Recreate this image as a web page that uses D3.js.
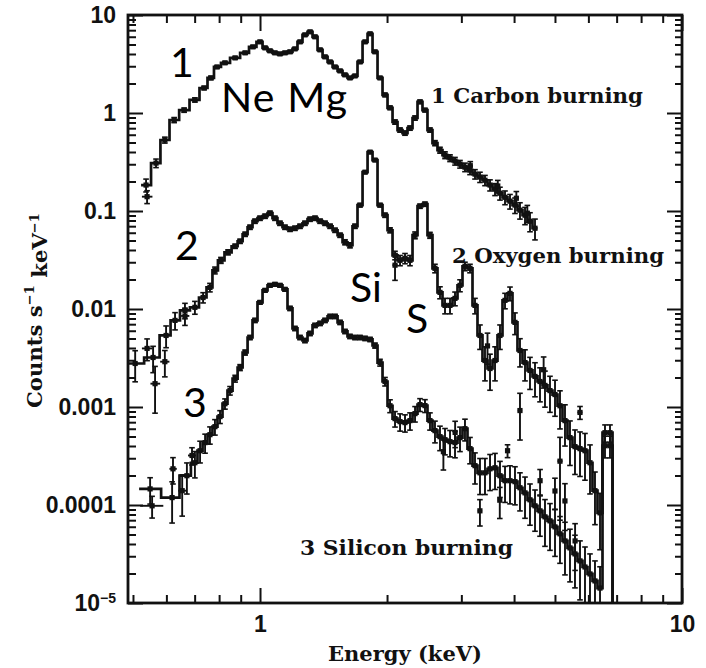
<!DOCTYPE html>
<html>
<head>
<meta charset="utf-8">
<script src="https://cdn.jsdelivr.net/npm/d3@7"></script>
<style>
  body { margin: 0; background: #fff; }
  svg { display: block; }
</style>
</head>
<body>
<svg id="chart" width="706" height="668"></svg>
<script>
// ---- X-ray spectra: count rate per keV for three burning-stage models ----

// 1: Carbon burning
const carbonE = [
  0.537, 0.567, 0.595, 0.626, 0.661, 0.701, 0.737, 0.765, 0.791, 0.826,
  0.873, 0.922, 0.962, 1.000, 1.028, 1.056, 1.085, 1.115, 1.146, 1.178,
  1.210, 1.244, 1.278, 1.314, 1.350, 1.388, 1.426, 1.466, 1.506, 1.548,
  1.590, 1.634, 1.679, 1.726, 1.774, 1.823, 1.873, 1.925, 1.978, 2.033,
  2.089, 2.147, 2.206, 2.267, 2.330, 2.394, 2.460, 2.528, 2.598, 2.670,
  2.744, 2.820, 2.898, 2.978, 3.060, 3.145, 3.232, 3.321, 3.413, 3.508,
  3.605, 3.704, 3.807, 3.912, 4.020, 4.131, 4.246, 4.363, 4.484
];
const carbonCounts = [
  0.184, 0.308, 0.530, 0.848, 1.07, 1.36, 1.80, 2.28, 2.95, 3.25,
  3.65, 4.11, 4.73, 5.32, 4.62, 4.31, 4.11, 4.01, 4.11, 4.21,
  4.51, 5.32, 6.27, 6.73, 5.99, 4.41, 3.74, 3.32, 2.95, 2.69,
  2.45, 2.28, 2.39, 3.32, 5.32, 6.43, 4.21, 2.28, 1.53, 1.13,
  0.809, 0.670, 0.624, 0.702, 0.889, 1.30, 1.07, 0.670, 0.493, 0.418,
  0.372, 0.347, 0.323, 0.301, 0.280, 0.261, 0.238, 0.222, 0.206, 0.184,
  0.167, 0.152, 0.138, 0.126, 0.115, 0.102, 0.0906, 0.0787, 0.0667
];
const carbonRelErr = [
  0.15, 0.10, 0.07, 0.06, 0.05, 0.05, 0.04, 0.04, 0.03, 0.03,
  0.03, 0.03, 0.03, 0.03, 0.03, 0.03, 0.03, 0.03, 0.03, 0.03,
  0.03, 0.03, 0.03, 0.03, 0.03, 0.03, 0.03, 0.03, 0.03, 0.03,
  0.03, 0.03, 0.03, 0.03, 0.03, 0.03, 0.03, 0.03, 0.04, 0.04,
  0.05, 0.05, 0.05, 0.05, 0.05, 0.04, 0.04, 0.05, 0.06, 0.07,
  0.08, 0.08, 0.09, 0.09, 0.10, 0.10, 0.11, 0.12, 0.12, 0.13,
  0.14, 0.15, 0.16, 0.17, 0.18, 0.19, 0.20, 0.22, 0.24
];
// points off the model: [energy, counts, relative error, bin low, bin high]
const carbonExtra = [
  [0.540, 0.140, 0.15, 0.525, 0.556],
  [3.150, 0.290, 0.10, 3.110, 3.190],
  [3.660, 0.180, 0.14, 3.620, 3.700],
  [4.050, 0.135, 0.17, 4.000, 4.100],
  [4.300, 0.095, 0.20, 4.250, 4.350]
];

// 2: Oxygen burning
const oxygenE = [
  0.506, 0.558, 0.599, 0.629, 0.664, 0.701, 0.733, 0.761, 0.782, 0.808,
  0.840, 0.873, 0.897, 0.922, 0.947, 0.973, 1.000, 1.028, 1.056, 1.085,
  1.115, 1.146, 1.178, 1.210, 1.244, 1.278, 1.314, 1.350, 1.388, 1.426,
  1.466, 1.506, 1.548, 1.590, 1.634, 1.679, 1.726, 1.774, 1.823, 1.873,
  1.925, 1.978, 2.033, 2.089, 2.147, 2.206, 2.267, 2.330, 2.394, 2.460,
  2.528, 2.598, 2.670, 2.744, 2.820, 2.898, 2.978, 3.060, 3.145, 3.232,
  3.321, 3.413, 3.508, 3.605, 3.704, 3.807, 3.912, 4.020, 4.131, 4.246,
  4.363, 4.484, 4.608, 4.735, 4.866, 5.001, 5.139, 5.281, 5.427, 5.577,
  5.732, 5.890, 6.053, 6.220, 6.393, 6.569, 6.751, 6.940
];
const oxygenCounts = [
  0.00278, 0.00320, 0.00537, 0.00765, 0.00968, 0.0104, 0.0131, 0.0166, 0.0248, 0.0314,
  0.0379, 0.0437, 0.0491, 0.0579, 0.0683, 0.0787, 0.0844, 0.0885, 0.0950, 0.0844,
  0.0750, 0.0683, 0.0651, 0.0667, 0.0699, 0.0750, 0.0825, 0.0844, 0.0787, 0.0750,
  0.0699, 0.0636, 0.0566, 0.0480, 0.0447, 0.0699, 0.1147, 0.249, 0.399, 0.331,
  0.1147, 0.0906, 0.0636, 0.0353, 0.0314, 0.0329, 0.0314, 0.0566, 0.1120, 0.1174,
  0.0566, 0.0260, 0.01478, 0.01088, 0.01088, 0.01284, 0.01743, 0.0273, 0.0260, 0.01088,
  0.00537, 0.00298, 0.00247, 0.00298, 0.00537, 0.01225, 0.01444, 0.00730, 0.00377, 0.00284,
  0.00236, 0.00205, 0.00182, 0.00166, 0.00147, 0.00134, 0.00103, 0.000726, 0.000487, 0.000394,
  0.000376, 0.000358, 0.000270, 0.000140, 0.0000832, 0.000547, 0.000547, 0.000004
];
const oxygenRelErr = [
  0.35, 0.30, 0.25, 0.20, 0.18, 0.15, 0.12, 0.10, 0.08, 0.07,
  0.06, 0.05, 0.05, 0.05, 0.05, 0.05, 0.05, 0.05, 0.05, 0.05,
  0.05, 0.05, 0.05, 0.05, 0.05, 0.05, 0.05, 0.05, 0.05, 0.05,
  0.05, 0.05, 0.05, 0.06, 0.06, 0.05, 0.04, 0.03, 0.03, 0.03,
  0.04, 0.05, 0.06, 0.10, 0.12, 0.12, 0.12, 0.08, 0.05, 0.05,
  0.07, 0.10, 0.14, 0.18, 0.18, 0.16, 0.14, 0.10, 0.10, 0.18,
  0.28, 0.38, 0.40, 0.38, 0.28, 0.18, 0.16, 0.25, 0.32, 0.35,
  0.36, 0.38, 0.38, 0.40, 0.40, 0.40, 0.42, 0.45, 0.48, 0.48,
  0.48, 0.50, 0.52, 0.55, 0.58, 0.20, 0.20, 0
];
const oxygenExtra = [
  [0.540, 0.00396, 0.25, 0.525, 0.556],
  [0.564, 0.00173, 0.50, 0.550, 0.580],
  [0.595, 0.00290, 0.30, 0.580, 0.610],
  [0.664, 0.00850, 0.20, 0.650, 0.680],
  [2.089, 0.0280, 0.30, 2.060, 2.120],
  [3.460, 0.00420, 0.35, 3.420, 3.500],
  [4.131, 0.00092, 0.50, 4.080, 4.180],
  [4.700, 0.00240, 0.35, 4.650, 4.750],
  [5.139, 0.00028, 0.75, 5.070, 5.210],
  [5.732, 0.00088, 0.15, 5.650, 5.810]
];

// 3: Silicon burning
const siliconE = [
  0.549, 0.619, 0.671, 0.701, 0.721, 0.741, 0.761, 0.782, 0.804, 0.826,
  0.849, 0.873, 0.897, 0.922, 0.947, 0.973, 1.000, 1.028, 1.056, 1.085,
  1.115, 1.146, 1.178, 1.210, 1.244, 1.278, 1.314, 1.350, 1.388, 1.426,
  1.466, 1.506, 1.548, 1.590, 1.634, 1.679, 1.726, 1.774, 1.823, 1.873,
  1.925, 1.978, 2.033, 2.089, 2.147, 2.206, 2.267, 2.330, 2.394, 2.460,
  2.528, 2.598, 2.670, 2.744, 2.820, 2.898, 2.978, 3.060, 3.145, 3.232,
  3.321, 3.413, 3.508, 3.605, 3.704, 3.807, 3.912, 4.020, 4.131, 4.246,
  4.363, 4.484, 4.608, 4.735, 4.866, 5.001, 5.139, 5.281, 5.427, 5.577,
  5.732, 5.890, 6.053, 6.220, 6.393, 6.569, 6.751, 6.940
];
const siliconCounts = [
  0.000146, 0.000119, 0.000199, 0.000270, 0.000358, 0.000433, 0.000522, 0.000630, 0.000798, 0.00108,
  0.00147, 0.00195, 0.00253, 0.00360, 0.00512, 0.00765, 0.01168, 0.01549, 0.01743, 0.01785,
  0.01743, 0.01586, 0.01014, 0.00633, 0.00512, 0.00477, 0.00563, 0.00680, 0.00713, 0.00765,
  0.00840, 0.00840, 0.00730, 0.00590, 0.00525, 0.00512, 0.00512, 0.00501, 0.00489, 0.00424,
  0.00284, 0.00182, 0.00103, 0.000761, 0.000709, 0.000693, 0.000726, 0.000856, 0.001058, 0.001033,
  0.000726, 0.000574, 0.000498, 0.000464, 0.000443, 0.000433, 0.000487, 0.000601, 0.000376, 0.000252,
  0.000213, 0.000213, 0.000234, 0.000240, 0.000199, 0.000177, 0.000177, 0.000173, 0.000150, 0.000133,
  0.000113, 0.0000981, 0.0000872, 0.0000757, 0.0000689, 0.0000598, 0.0000508, 0.0000430, 0.0000365, 0.0000317,
  0.0000269, 0.0000233, 0.0000198, 0.0000168, 0.0000142, 0.000403, 0.000403, 0.000004
];
const siliconRelErr = [
  0.30, 0.45, 0.35, 0.30, 0.25, 0.22, 0.20, 0.18, 0.15, 0.12,
  0.10, 0.08, 0.07, 0.06, 0.05, 0.05, 0.04, 0.04, 0.04, 0.04,
  0.04, 0.04, 0.05, 0.05, 0.05, 0.05, 0.05, 0.05, 0.05, 0.05,
  0.05, 0.05, 0.05, 0.05, 0.05, 0.05, 0.05, 0.05, 0.05, 0.06,
  0.08, 0.10, 0.15, 0.18, 0.20, 0.20, 0.20, 0.18, 0.15, 0.15,
  0.20, 0.25, 0.28, 0.30, 0.30, 0.30, 0.28, 0.25, 0.30, 0.35,
  0.40, 0.40, 0.40, 0.40, 0.40, 0.40, 0.42, 0.42, 0.42, 0.45,
  0.45, 0.45, 0.45, 0.50, 0.50, 0.50, 0.50, 0.55, 0.55, 0.55,
  0.60, 0.60, 0.60, 0.60, 0.65, 0.25, 0.25, 0
];
const siliconExtra = [
  [0.555, 0.0000981, 0.25, 0.520, 0.590],
  [0.622, 0.000234, 0.30, 0.610, 0.635],
  [0.654, 0.000140, 0.45, 0.640, 0.670],
  [0.690, 0.000320, 0.20, 0.675, 0.705],
  [2.720, 0.000350, 0.35, 2.690, 2.750],
  [2.900, 0.000550, 0.30, 2.870, 2.930],
  [3.320, 0.0000872, 0.30, 3.280, 3.360],
  [3.700, 0.000112, 0.35, 3.660, 3.740],
  [3.860, 0.000358, 0.15, 3.820, 3.900],
  [4.610, 0.000177, 0.30, 4.560, 4.660],
  [5.000, 0.000139, 0.35, 4.950, 5.050],
  [5.280, 0.000110, 0.50, 5.220, 5.340],
  [5.580, 0.0000430, 0.50, 5.520, 5.640]
];

// axis ticks and labels
const yTickValues = [10, 1, 0.1, 0.01, 0.001, 0.0001, 0.00001];
const yTickLabels = ["10", "1", "0.1", "0.01", "0.001", "0.0001", "10"];
const xTickValues = [1, 10];
const xTickLabels = ["1", "10"];

// ---- layout ----
const plotLeft = 128, plotRight = 682, plotTop = 15, plotBottom = 603;
const svg = d3.select("#chart");

const x = d3.scaleLog().domain([0.4866, 10]).range([plotLeft, plotRight]);
const y = d3.scaleLog().domain([1e-5, 10]).range([plotBottom, plotTop]);

const tickFont = "'Liberation Sans', Arial, sans-serif";
const serifFont = "'DejaVu Serif', serif";
const noteFont = "Lato, 'Open Sans', sans-serif";

svg.append("defs").append("clipPath").attr("id", "plot-clip")
  .append("rect")
  .attr("x", plotLeft).attr("y", plotTop)
  .attr("width", plotRight - plotLeft).attr("height", plotBottom - plotTop);

// ---- axes (all ticks point inward) ----
const yMinor = y.ticks().filter(v => Math.abs(Math.log10(v) - Math.round(Math.log10(v))) > 1e-6);
const xMinor = x.ticks().filter(v => v >= 0.5 && Math.abs(Math.log10(v) - Math.round(Math.log10(v))) > 1e-6);

function styleAxis(g) {
  g.select(".domain").remove();
  g.selectAll(".tick line").attr("stroke", "#111").attr("stroke-width", 2);
}

const leftAxis = svg.append("g").attr("transform", `translate(${plotLeft},0)`)
  .call(d3.axisLeft(y).tickValues(yTickValues).tickSize(-15).tickPadding(12)
    .tickFormat((d, i) => yTickLabels[i]))
  .call(styleAxis);
leftAxis.selectAll("text")
  .attr("font-family", tickFont).attr("font-size", 23).attr("font-weight", "bold")
  .attr("fill", "#111");
// the lowest decade is written with an exponent
leftAxis.selectAll(".tick").filter(d => d === 0.00001).select("text")
  .append("tspan").attr("font-size", 14).attr("dy", "-0.55em").text("\u22125");

svg.append("g").attr("transform", `translate(${plotLeft},0)`)
  .call(d3.axisLeft(y).tickValues(yMinor).tickSize(-8).tickFormat(""))
  .call(styleAxis);
svg.append("g").attr("transform", `translate(${plotRight},0)`)
  .call(d3.axisRight(y).tickValues(yTickValues).tickSize(-15).tickFormat(""))
  .call(styleAxis);
svg.append("g").attr("transform", `translate(${plotRight},0)`)
  .call(d3.axisRight(y).tickValues(yMinor).tickSize(-7).tickFormat(""))
  .call(styleAxis);

const bottomAxis = svg.append("g").attr("transform", `translate(0,${plotBottom})`)
  .call(d3.axisBottom(x).tickValues(xTickValues).tickSize(-15).tickPadding(13)
    .tickFormat((d, i) => xTickLabels[i]))
  .call(styleAxis);
bottomAxis.selectAll("text")
  .attr("font-family", tickFont).attr("font-size", 23).attr("font-weight", "bold")
  .attr("fill", "#111");
svg.append("g").attr("transform", `translate(0,${plotBottom})`)
  .call(d3.axisBottom(x).tickValues(xMinor).tickSize(-8).tickFormat(""))
  .call(styleAxis);
svg.append("g").attr("transform", `translate(0,${plotTop})`)
  .call(d3.axisTop(x).tickValues(xTickValues).tickSize(-16).tickFormat(""))
  .call(styleAxis);
svg.append("g").attr("transform", `translate(0,${plotTop})`)
  .call(d3.axisTop(x).tickValues(xMinor).tickSize(-8).tickFormat(""))
  .call(styleAxis);

// frame
svg.append("rect")
  .attr("x", plotLeft).attr("y", plotTop)
  .attr("width", plotRight - plotLeft).attr("height", plotBottom - plotTop)
  .attr("fill", "none").attr("stroke", "#111").attr("stroke-width", 2.8);

// ---- spectra ----
const plot = svg.append("g").attr("clip-path", "url(#plot-clip)");

function drawSpectrum(energies, counts, relErr, extra) {
  const n = energies.length;
  const bins = energies.map((e, i) => {
    const prev = i > 0 ? energies[i - 1] : e * e / energies[i + 1];
    const next = i < n - 1 ? energies[i + 1] : e * e / energies[i - 1];
    return { e, v: counts[i], r: relErr[i], lo: Math.sqrt(prev * e), hi: Math.sqrt(e * next) };
  });
  const g = plot.append("g");

  // folded model as a histogram
  const stepPts = bins.flatMap(b => [[b.lo, b.v], [b.hi, b.v]]);
  g.append("path")
    .attr("d", d3.line().x(p => x(p[0])).y(p => y(p[1]))(stepPts))
    .attr("fill", "none").attr("stroke", "#111").attr("stroke-width", 2.7)
    .attr("stroke-linejoin", "miter");

  // data points with error bars
  const pts = bins.filter(b => b.r > 0).map(b => ({ e: b.e, v: b.v, r: b.r, lo: b.lo, hi: b.hi }))
    .concat(extra.map(p => ({ e: p[0], v: p[1], r: p[2], lo: p[3], hi: p[4], cross: true })));

  g.selectAll(".ebar").data(pts).join("line")
    .attr("x1", d => x(d.e)).attr("x2", d => x(d.e))
    .attr("y1", d => y(d.v * (1 - d.r))).attr("y2", d => y(d.v * (1 + d.r)))
    .attr("stroke", "#111").attr("stroke-width", 1.9);
  g.selectAll(".ecap").data(pts).join("g").each(function (d) {
    const s = d3.select(this);
    [d.v * (1 - d.r), d.v * (1 + d.r)].forEach(val => {
      s.append("line")
        .attr("x1", x(d.e) - 2.8).attr("x2", x(d.e) + 2.8)
        .attr("y1", y(val)).attr("y2", y(val))
        .attr("stroke", "#111").attr("stroke-width", 1.6);
    });
  });
  g.selectAll(".hbar").data(pts.filter(d => d.cross)).join("line")
    .attr("x1", d => x(d.lo)).attr("x2", d => x(d.hi))
    .attr("y1", d => y(d.v)).attr("y2", d => y(d.v))
    .attr("stroke", "#111").attr("stroke-width", 1.9);
  g.selectAll(".mark").data(pts).join("rect")
    .attr("x", d => x(d.e) - 2.6).attr("y", d => y(d.v) - 2.6)
    .attr("width", 5.2).attr("height", 5.2)
    .attr("fill", "#111");
}

drawSpectrum(carbonE, carbonCounts, carbonRelErr, carbonExtra);
drawSpectrum(oxygenE, oxygenCounts, oxygenRelErr, oxygenExtra);
drawSpectrum(siliconE, siliconCounts, siliconRelErr, siliconExtra);

// ---- axis titles ----
svg.append("text")
  .attr("x", 405).attr("y", 661)
  .attr("text-anchor", "middle")
  .attr("font-family", serifFont).attr("font-weight", "bold").attr("font-size", 21)
  .attr("textLength", 154).attr("lengthAdjust", "spacingAndGlyphs")
  .attr("fill", "#111")
  .text("Energy (keV)");

const yTitle = svg.append("text")
  .attr("transform", "translate(42,408) rotate(-90)")
  .attr("x", 0).attr("y", 0)
  .attr("font-family", serifFont).attr("font-weight", "bold").attr("font-size", 21)
  .attr("textLength", 195).attr("lengthAdjust", "spacingAndGlyphs")
  .attr("fill", "#111");
yTitle.append("tspan").text("Counts s");
yTitle.append("tspan").attr("font-size", 13).attr("dy", "-0.6em").text("\u22121");
yTitle.append("tspan").attr("dy", "0.6em").text(" keV");
yTitle.append("tspan").attr("font-size", 13).attr("dy", "-0.6em").text("\u22121");

// ---- spectrum captions ----
const captions = [
  { text: "1 Carbon burning", x: 431, y: 103, len: 212 },
  { text: "2 Oxygen burning", x: 452, y: 263, len: 212 },
  { text: "3 Silicon burning", x: 300, y: 555, len: 213 }
];
svg.selectAll(".caption").data(captions).join("text")
  .attr("x", d => d.x).attr("y", d => d.y)
  .attr("font-family", serifFont).attr("font-weight", "bold").attr("font-size", 20)
  .attr("textLength", d => d.len).attr("lengthAdjust", "spacingAndGlyphs")
  .attr("fill", "#111")
  .text(d => d.text);

// ---- line identifications ----
const notes = [
  { text: "1", x: 170, y: 77 },
  { text: "Ne Mg", x: 221, y: 112, len: 126 },
  { text: "2", x: 175, y: 260 },
  { text: "Si", x: 350, y: 302 },
  { text: "S", x: 406, y: 333 },
  { text: "3", x: 183, y: 417 }
];
svg.selectAll(".note").data(notes).join("text")
  .attr("x", d => d.x).attr("y", d => d.y)
  .attr("font-family", noteFont).attr("font-size", 41)
  .attr("textLength", d => d.len || null)
  .attr("fill", "#000")
  .text(d => d.text);
</script>
</body>
</html>
